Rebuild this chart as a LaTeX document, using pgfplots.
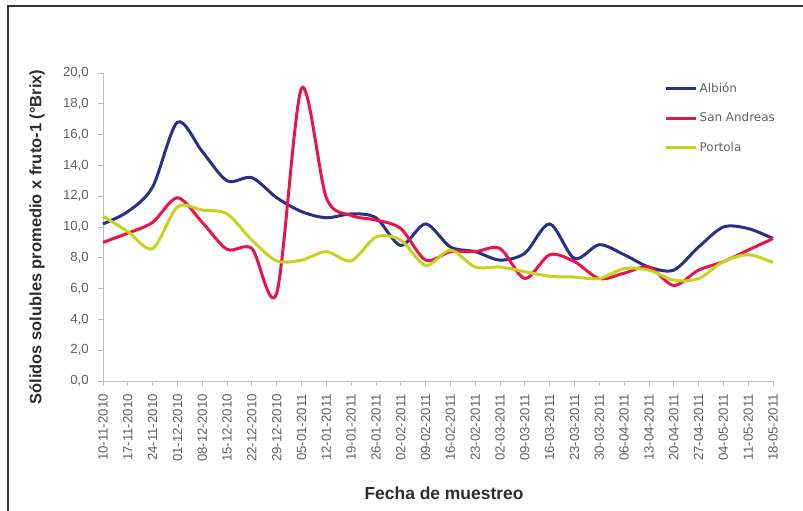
\documentclass[border=0pt]{standalone}
\usepackage{fontspec}
\setmainfont{Liberation Sans}
\newfontfamily\legfont{DejaVu Sans}
\usepackage{pgfplots}
\pgfplotsset{compat=1.18}
\definecolor{cblue}{RGB}{40,48,135}
\definecolor{cred}{RGB}{232,22,72}
\definecolor{cyel}{RGB}{200,210,30}
\definecolor{axgray}{RGB}{190,190,190}
\definecolor{txtgray}{RGB}{95,95,95}
\definecolor{ttlgray}{RGB}{45,45,45}
\begin{document}
\begin{tikzpicture}[x=1bp,y=1bp]
\path[use as bounding box] (-103,-130) rectangle (700,381);
\draw[line width=2bp, black!80] (-95,-131) -- (-95,375) -- (701,375);
\begin{axis}[
  scale only axis,
  width=670bp, height=308bp,
  xmin=0, xmax=27, ymin=0, ymax=20,
  axis lines=left,
  axis line style={draw=axgray, line width=0.8bp, -},
  xtick={0,...,27},
  xticklabels={10-11-2010,17-11-2010,24-11-2010,01-12-2010,08-12-2010,15-12-2010,22-12-2010,29-12-2010,05-01-2011,12-01-2011,19-01-2011,26-01-2011,02-02-2011,09-02-2011,16-02-2011,23-02-2011,02-03-2011,09-03-2011,16-03-2011,23-03-2011,30-03-2011,06-04-2011,13-04-2011,20-04-2011,27-04-2011,04-05-2011,11-05-2011,18-05-2011},
  ytick={0,2,...,20},
  tick align=outside,
  major tick length=5bp,
  tick style={draw=axgray, line width=0.8bp},
  xticklabel shift=7bp,
  x tick label style={rotate=90, anchor=east, font=\fontsize{13.3}{15}\selectfont, text=txtgray, inner sep=1bp},
  y tick label style={font=\fontsize{13.3}{15}\selectfont, text=txtgray, inner sep=1bp, xshift=-8bp},
  yticklabel style={/pgf/number format/.cd, use comma, fixed, fixed zerofill, precision=1, assume math mode=true},
  xlabel={Fecha de muestreo},
  ylabel={Sólidos solubles promedio x fruto-1 (°Brix)},
  xlabel style={at={(axis description cs:0.509,-0.364)}, anchor=center, font=\bfseries\fontsize{17.5}{20}\selectfont, text=ttlgray},
  ylabel style={at={(axis description cs:-0.0985,0.4675)}, anchor=center, rotate=0, font=\bfseries\fontsize{16.5}{19}\selectfont, text=ttlgray},
  legend style={at={(axis description cs:0.835,0.98)}, anchor=north west, draw=none, fill=none, font=\legfont\fontsize{12}{14}\selectfont, text=txtgray, row sep=14.5bp, inner sep=2bp},
  legend cell align=left,
  legend image code/.code={\draw[#1] (0bp,0bp) -- (30bp,0bp);},
  every axis plot/.append style={line width=3bp, smooth, tension=0.5, no markers},
  clip=false,
]
\addplot[cblue] coordinates {
(0,10.2) (1,11.0) (2,12.6) (3,16.8) (4,14.9) (5,13.0) (6,13.2) (7,11.9) (8,11.0) (9,10.6)
(10,10.85) (11,10.6) (12,8.8) (13,10.2) (14,8.7) (15,8.4) (16,7.85) (17,8.3) (18,10.2) (19,7.95)
(20,8.85) (21,8.2) (22,7.4) (23,7.2) (24,8.7) (25,10.0) (26,9.9) (27,9.25)};
\addlegendentry{Albión}
\addplot[cred] coordinates {
(0,9.0) (1,9.6) (2,10.3) (3,11.9) (4,10.3) (5,8.55) (6,8.6) (7,5.7) (8,19.0) (9,11.9)
(10,10.75) (11,10.45) (12,9.9) (13,7.85) (14,8.4) (15,8.4) (16,8.6) (17,6.65) (18,8.2) (19,7.75)
(20,6.65) (21,7.0) (22,7.4) (23,6.2) (24,7.2) (25,7.75) (26,8.5) (27,9.25)};
\addlegendentry{San Andreas}
\addplot[cyel] coordinates {
(0,10.7) (1,9.7) (2,8.6) (3,11.3) (4,11.1) (5,10.85) (6,9.15) (7,7.8) (8,7.85) (9,8.4)
(10,7.8) (11,9.35) (12,9.15) (13,7.5) (14,8.5) (15,7.4) (16,7.4) (17,7.1) (18,6.8) (19,6.75)
(20,6.65) (21,7.3) (22,7.2) (23,6.55) (24,6.65) (25,7.75) (26,8.2) (27,7.7)};
\addlegendentry{Portola}
\end{axis}
\end{tikzpicture}
\end{document}
